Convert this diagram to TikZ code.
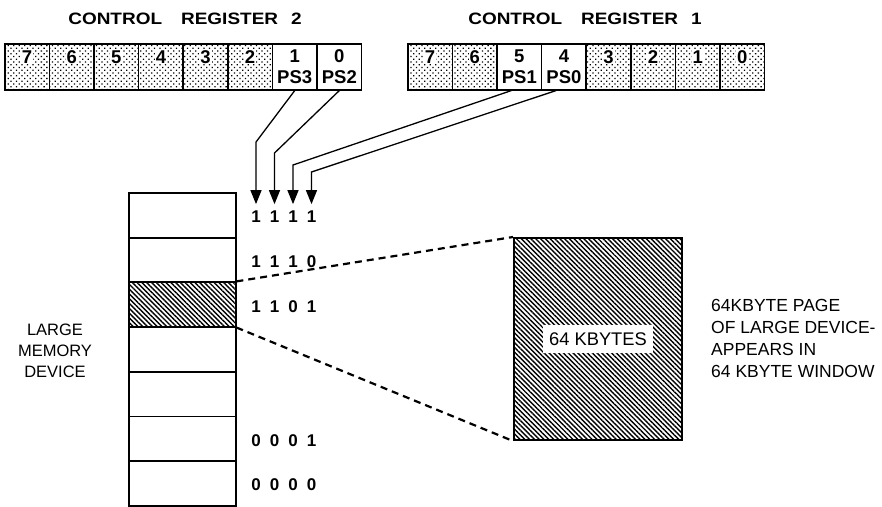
\documentclass[tikz,border=0pt]{standalone}
\usepackage{fontspec}
\setmainfont{Liberation Sans}
\newfontfamily\widefont{Liberation Sans}[FakeStretch=1.15]
\usetikzlibrary{positioning, arrows.meta, patterns.meta, calc}
\setlength{\fboxsep}{1pt}

\begin{document}
\begin{tikzpicture}[x=1pt, y=-1pt,
    regcell/.style={draw, line width=1.6pt, anchor=north west, minimum width=44.6pt, minimum height=46pt, inner sep=0pt, align=center, font=\bfseries\fontsize{18.5}{21}\selectfont},
    stipple/.style={pattern={Dots[distance=3.9pt, radius=0.9pt, angle=45]}},
    hatched/.style={pattern={Lines[angle=-45, distance=3.4pt, line width=1.4pt]}},
    memcell/.style={draw, line width=1.8pt, anchor=north west, minimum width=107pt, minimum height=44.7pt, inner sep=0pt},
    regtitle/.style={font=\widefont\bfseries\fontsize{16.5}{18}\selectfont, inner sep=0pt},
    addr/.style={font=\bfseries\fontsize{17}{18}\selectfont, inner sep=0pt, minimum height=25pt},
    feed/.style={line width=1.3pt, -{Triangle[length=14pt, width=11pt]}},
    window/.style={line width=2.2pt, dash pattern=on 7pt off 5pt},
    plain/.style={font=\fontsize{17.5}{21.7}\selectfont, align=center, inner sep=0pt}]

    \useasboundingbox (0,0) rectangle (882,506);

    \node[regtitle] (titletwo) at (185,18.5) {CONTROL\hspace{19pt}REGISTER\hspace{13pt}2};
    \node[regtitle] (titleone) at (585,18.5) {CONTROL\hspace{19pt}REGISTER\hspace{13pt}1};

    \foreach \b [count=\k from 0] in {7,6,5,4,3,2}
        \node[regcell, stipple] (rtwo\b) at ({4+44.6*\k},43) {\colorbox{white}{\b}\\~};
    \foreach \b/\ps [count=\k from 6] in {1/PS3, 0/PS2}
        \node[regcell] (rtwo\b) at ({4+44.6*\k},43) {\b\\\ps};

    \foreach \b [count=\k from 0] in {7,6}
        \node[regcell, stipple] (rone\b) at ({407+44.6*\k},43) {\colorbox{white}{\b}\\~};
    \foreach \b/\ps [count=\k from 2] in {5/PS1, 4/PS0}
        \node[regcell] (rone\b) at ({407+44.6*\k},43) {\b\\\ps};
    \foreach \b [count=\k from 4] in {3,2,1,0}
        \node[regcell, stipple] (rone\b) at ({407+44.6*\k},43) {\colorbox{white}{\b}\\~};

    \foreach \i in {1,2,4,5,6,7}
        \node[memcell] (mem\i) at (128,{192+44.7*(\i-1)}) {};
    \node[memcell, hatched] (mem3) at (128,{192+44.7*2}) {};

    \foreach \row/\da/\db/\dc/\dd in {1/1/1/1/1, 2/1/1/1/0, 3/1/1/0/1, 6/0/0/0/1, 7/0/0/0/0} {
        \node[addr] (a\row a) at (256,{192+44.7*(\row-0.5)+2.5}) {\da};
        \node[addr] (a\row b) at (274.5,{192+44.7*(\row-0.5)+2.5}) {\db};
        \node[addr] (a\row c) at (293,{192+44.7*(\row-0.5)+2.5}) {\dc};
        \node[addr] (a\row d) at (311.5,{192+44.7*(\row-0.5)+2.5}) {\dd};
    }

    \coordinate (kneeA) at (256,142);
    \coordinate (kneeB) at (274.5,153);
    \coordinate (kneeC) at (293,165);
    \coordinate (kneeD) at (311.5,172);

    \draw[feed] (rtwo1.south) -- (kneeA) -- (a1a);
    \draw[feed] (rtwo0.south) -- (kneeB) -- (a1b);
    \draw[feed] ([xshift=-8pt]rone5.south) -- (kneeC) -- (a1c);
    \draw[feed] ([xshift=-8pt]rone4.south) -- (kneeD) -- (a1d);

    \node[draw, line width=2pt, hatched, anchor=north west, minimum width=168pt, minimum height=202pt, inner sep=0pt] (page) at (513,237) {};
    \node[plain, font=\fontsize{18.3}{21.7}\selectfont, fill=white, inner xsep=6pt, inner ysep=8pt] (kbytes) at (page.center) {64 KBYTES};

    \draw[window] (mem3.north east) -- (page.north west);
    \draw[window] (mem3.south east) -- (page.south west);

    \node[plain, font=\fontsize{16.5}{21}\selectfont] (device) at (55,351) {LARGE\\MEMORY\\DEVICE};
    \node[plain, align=left, anchor=west] (note) at (711,338.5) {64KBYTE PAGE\\OF LARGE DEVICE-\\APPEARS IN\\64 KBYTE WINDOW};
\end{tikzpicture}
\end{document}
